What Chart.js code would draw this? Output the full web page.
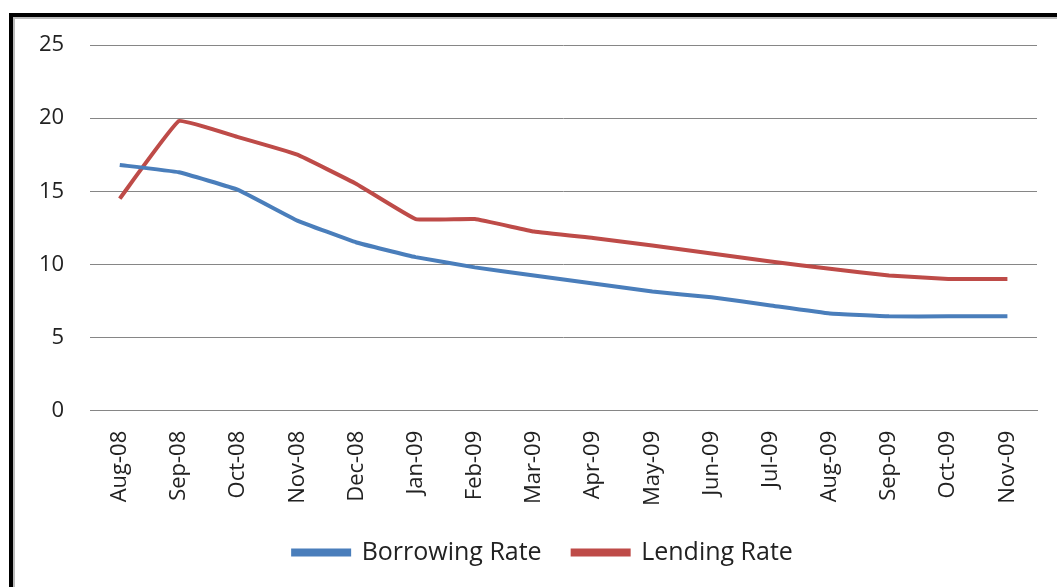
<!DOCTYPE html>
<html>
<head>
<meta charset="utf-8">
<script src="https://cdn.jsdelivr.net/npm/chart.js@4"></script>
<style>
    html, body { margin: 0; padding: 0; background: #fff; }
    #wrap { position: relative; width: 1057px; height: 587px; overflow: hidden; }
    #frame {
        position: absolute; left: 9px; top: 13px; width: 1100px; height: 600px;
        border-top: 4px solid #000; border-left: 4px solid #000;
        box-shadow: inset 2px 2px 0 #bbb;
    }
    canvas { position: absolute; left: 0; top: 0; }
</style>
</head>
<body>
<div id="wrap">
    <div id="frame"></div>
    <canvas id="rateChart" width="1057" height="587"></canvas>
</div>
<script>
var months = ['Aug-08', 'Sep-08', 'Oct-08', 'Nov-08', 'Dec-08', 'Jan-09', 'Feb-09', 'Mar-09',
    'Apr-09', 'May-09', 'Jun-09', 'Jul-09', 'Aug-09', 'Sep-09', 'Oct-09', 'Nov-09'];
var borrowingRate = [16.8, 16.3, 15.1, 13.0, 11.5, 10.5, 9.8, 9.25, 8.7, 8.15, 7.75, 7.2, 6.65, 6.45, 6.45, 6.45];
var lendingRate = [14.5, 19.8, 18.7, 17.5, 15.5, 13.1, 13.1, 12.25, 11.8, 11.3, 10.75, 10.2, 9.7, 9.25, 9.0, 9.0];

Chart.defaults.font.family = '"Open Sans", Lato, sans-serif';
Chart.defaults.color = '#222';

// nudge the legend row so it sits centred under the whole frame
var legendShift = {
    id: 'legendShift',
    afterLayout: function (chart) {
        chart.legend.left += 18;
        chart.legend.right += 18;
    }
};

new Chart(document.getElementById('rateChart'), {
    type: 'line',
    data: {
        labels: months,
        datasets: [{
            data: borrowingRate,
            label: 'Borrowing Rate',
            borderColor: '#4A7EBB',
            backgroundColor: '#4A7EBB',
            borderWidth: 4,
            pointRadius: 0,
            tension: 0.08,
            fill: false
        }, {
            data: lendingRate,
            label: 'Lending Rate',
            borderColor: '#BE4B48',
            backgroundColor: '#BE4B48',
            borderWidth: 4,
            pointRadius: 0,
            tension: 0.08,
            fill: false
        }]
    },
    plugins: [legendShift],
    options: {
        responsive: false,
        animation: false,
        layout: { padding: { left: 13, right: 20, top: 45, bottom: 12 } },
        plugins: {
            legend: {
                position: 'bottom',
                labels: {
                    boxWidth: 56,
                    boxHeight: 4,
                    padding: 31,
                    font: { size: 25 },
                    color: '#222'
                }
            },
            tooltip: { enabled: false }
        },
        scales: {
            x: {
                offset: true,
                afterFit: function (scale) {
                    scale.height -= 17;
                },
                grid: { display: false, drawTicks: false },
                border: { display: true, color: '#868686', width: 1 },
                ticks: {
                    minRotation: 90,
                    maxRotation: 90,
                    autoSkip: false,
                    padding: 20,
                    font: { size: 22 }
                }
            },
            y: {
                min: 0,
                max: 25,
                ticks: { stepSize: 5, padding: 26, font: { size: 22 } },
                grid: { color: '#868686', drawTicks: false },
                border: { display: false }
            }
        }
    }
});
</script>
</body>
</html>
